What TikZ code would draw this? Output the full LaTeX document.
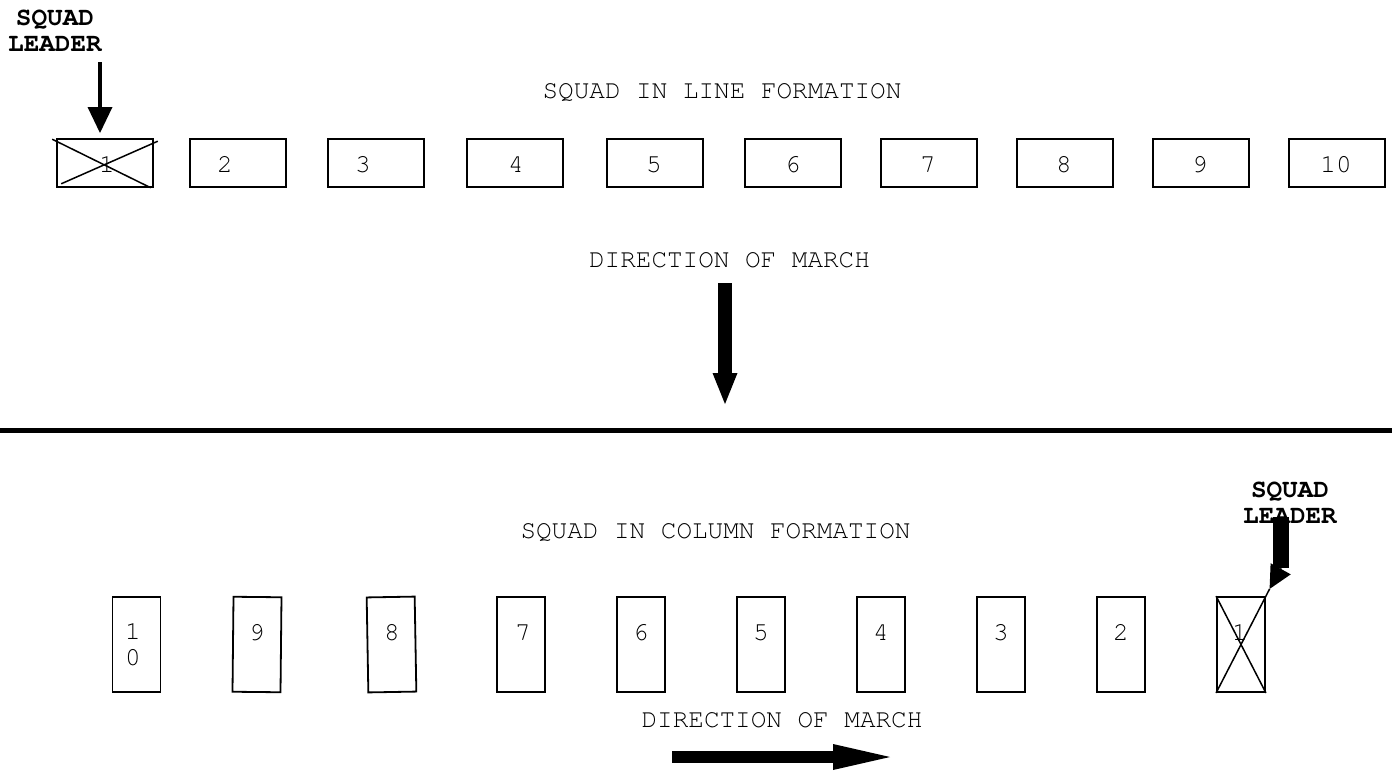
\documentclass[tikz,border=0pt]{standalone}
\usepackage{fontspec}
\newfontfamily\cour{TeX Gyre Cursor}
\usetikzlibrary{arrows.meta,calc}
\begin{document}
\begin{tikzpicture}[x=1pt,y=-1pt,
  txt/.style={font=\cour\fontsize{26}{26}\selectfont, inner sep=0pt, anchor=base},
  lead/.style={font=\cour\bfseries\fontsize{26}{26}\selectfont, align=center, inner sep=0pt, anchor=north},
  hbox/.style={draw, line width=1.6pt, minimum width=96pt, minimum height=48pt, inner sep=0pt},
  vbox/.style={draw, line width=1.8pt, minimum width=48pt, minimum height=95pt, inner sep=0pt},
  num/.style={font=\cour\fontsize{26}{26}\selectfont, inner sep=0pt, anchor=base},
  cross/.style={line width=1.5pt},
  thinarrow/.style={line width=4pt, -{Triangle[length=26pt,width=25pt,line width=0pt]}},
  bigdown/.style={line width=14pt, -{Triangle[length=31pt,width=25pt,line width=0pt]}},
  bigright/.style={line width=12pt, -{Triangle[length=57pt,width=26pt,line width=0pt]}},
  leadarrow/.style={line width=1.5pt, -{Triangle[length=23pt,width=23pt,line width=0pt]}}
]
\useasboundingbox (0,0) rectangle (1392,771);

% ---------- top: line formation ----------
\node[lead] (sl1) at (55,10) {SQUAD\\LEADER};
\coordinate (sla) at (100,62);
\coordinate (slb) at (100,133);
\draw[thinarrow] (sla) -- (slb);

\node[txt] (tline) at (722,98) {SQUAD IN LINE FORMATION};

\node[hbox] (t1) at (105,163) {};
\node[hbox] (t2) at (238,163) {};
\node[hbox] (t3) at (376,163) {};
\node[hbox] (t4) at (515,163) {};
\node[hbox] (t5) at (655,163) {};
\node[hbox] (t6) at (793,163) {};
\node[hbox] (t7) at (929,163) {};
\node[hbox] (t8) at (1065,163) {};
\node[hbox] (t9) at (1201,163) {};
\node[hbox] (t10) at (1337,163) {};

\node[num] (n1) at (107,172) {1};
\node[num] (n2) at (225,172) {2};
\node[num] (n3) at (363,172) {3};
\node[num] (n4) at (516,172) {4};
\node[num] (n5) at (654,172) {5};
\node[num] (n6) at (793,172) {6};
\node[num] (n7) at (928,172) {7};
\node[num] (n8) at (1064,172) {8};
\node[num] (n9) at (1200,172) {9};
\node[num] (n10) at (1336,172) {10};

\draw[cross] ([shift={(-4pt,-1pt)}]t1.north west) -- ([xshift=-3pt]t1.south east);
\draw[cross] ([shift={(5pt,4pt)}]t1.south west) -- ([shift={(4pt,-3pt)}]t1.north east);

\node[txt] (dm1) at (729.5,267) {DIRECTION OF MARCH};
\coordinate (da) at (725,283);
\coordinate (db) at (725,404);
\draw[bigdown] (da) -- (db);

% ---------- separator ----------
\coordinate (hl) at (0,430.5);
\coordinate (hr) at (1392,430.5);
\draw[line width=5pt] (hl) -- (hr);

% ---------- bottom: column formation ----------
\node[txt] (tcol) at (715.5,538) {SQUAD IN COLUMN FORMATION};

\node[vbox] (c10) at (136.5,644.5) {};
\node[vbox, rotate=-0.6] (c9) at (257,644.5) {};
\node[vbox, rotate=1] (c8) at (391.5,644.5) {};
\node[vbox] (c7) at (521,644.5) {};
\node[vbox] (c6) at (641,644.5) {};
\node[vbox] (c5) at (761,644.5) {};
\node[vbox] (c4) at (881,644.5) {};
\node[vbox] (c3) at (1001,644.5) {};
\node[vbox] (c2) at (1121,644.5) {};
\node[vbox] (c1) at (1241,644.5) {};

\node[font=\cour\fontsize{26}{26}\selectfont, align=center, inner sep=0pt, anchor=north] (m10) at (133,623) {1\\0};
\node[num] (m9) at (257,640) {9};
\node[num] (m8) at (392,640) {8};
\node[num] (m7) at (523,640) {7};
\node[num] (m6) at (641,640) {6};
\node[num] (m5) at (761,640) {5};
\node[num] (m4) at (881,640) {4};
\node[num] (m3) at (1001,640) {3};
\node[num] (m2) at (1121,640) {2};
\node[num] (m1) at (1240,640) {1};

\draw[cross] (c1.north west) -- (c1.south east);
\coordinate (ht) at ($(c1.south west)!1.074!(c1.north east)$);
\draw[cross] (c1.south west) -- (ht);

\node[fill=black, minimum width=16pt, minimum height=51pt, inner sep=0pt] (bar) at (1281,542.5) {};
\node[lead] (sl2) at (1290,482) {SQUAD\\LEADER};
\draw[leadarrow] (bar.south) -- (ht);

\node[txt] (dm2) at (782,727) {DIRECTION OF MARCH};
\coordinate (ra) at (672,757);
\coordinate (rb) at (890,757);
\draw[bigright] (ra) -- (rb);
\end{tikzpicture}
\end{document}
